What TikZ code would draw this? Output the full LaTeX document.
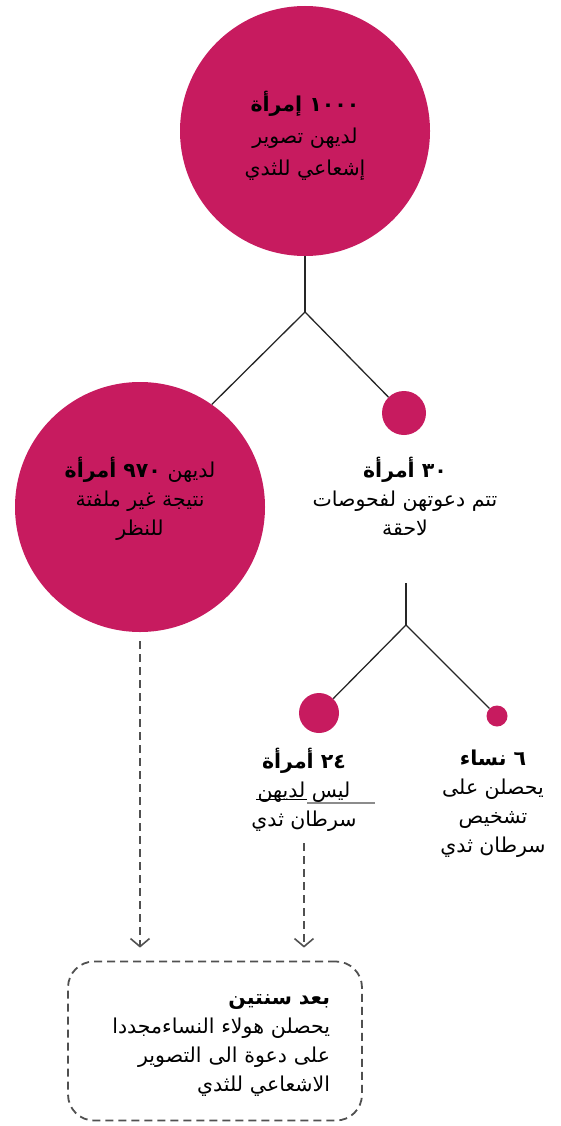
\documentclass[tikz,border=0pt]{standalone}
\usepackage{fontspec}
\TeXXeTstate=1
\newfontfamily\arabicfont[Script=Arabic]{DejaVu Sans}
\usetikzlibrary{arrows.meta}
\definecolor{rosa}{RGB}{199,27,95}
\definecolor{strich}{RGB}{80,80,80}
\tikzset{
  kreis/.style={circle, fill=rosa, inner sep=0pt},
  ast/.style={line width=1.3pt, black!85},
  arab/.style={align=center, font=\arabicfont\fontsize{20.5}{29}\selectfont},
  pfeil/.style={strich, line width=2pt, dash pattern=on 8pt off 5pt,
    -{Straight Barb[length=8pt, width=19pt, line width=1.6pt]}},
}
\begin{document}
\begin{tikzpicture}[x=1pt, y=-1pt]
  \useasboundingbox (0,0) rectangle (560,1126);
  % erster Schritt
  \node[kreis, minimum size=250pt] (tc) at (305,131) {};
  \node[arab, font=\arabicfont\fontsize{20.5}{32}\selectfont] (t1000) at ([yshift=-5pt]tc.center)
    {\beginR{\bfseries ١٠٠٠ إمرأة}\endR\\ \beginR لديهن تصوير\endR\\ \beginR إشعاعي للثدي\endR};
  \coordinate (j1) at (305,312);
  \node[kreis, minimum size=250pt] (lc) at (140,507) {};
  \node[arab] (t970) at ([yshift=8pt]lc.center)
    {\beginR لديهن  {\bfseries ٩٧٠ أمرأة}\endR\\ \beginR نتيجة غير ملفتة\endR\\ \beginR للنظر\endR};
  \node[kreis, minimum size=44pt] (sc) at (404,413) {};
  \node[arab] (t30) at (405,496)
    {\beginR{\bfseries ٣٠ أمرأة}\endR\\ \beginR تتم دعوتهن لفحوصات\endR\\ \beginR لاحقة\endR};
  \draw[ast] (tc) -- (j1);
  \draw[ast] (j1) -- (lc.55);
  \draw[ast] (j1) -- (sc);
  % zweiter Schritt
  \coordinate (j2a) at (406,583);
  \coordinate (j2) at (406,625);
  \node[kreis, minimum size=40pt] (c24) at (319,713) {};
  \node[kreis, minimum size=21pt] (c6) at (497,716) {};
  \draw[ast] (j2a) -- (j2);
  \draw[ast] (j2) -- (c24);
  \draw[ast] (j2) -- (c6);
  \node[arab] (t24) at (304,790)
    {\beginR{\bfseries ٢٤ أمرأة}\endR\\ \beginR ليس لديهن\endR\\ \beginR سرطان ثدي\endR};
  \draw[black, line width=1pt] (256,799) -- (307,799);
  \draw[black!45, line width=1.5pt] (307,803) -- (375,803);
  \node[arab] (t6) at (493,804)
    {\beginR{\bfseries ٦ نساء}\endR\\ \beginR يحصلن على\endR\\ \beginR تشخيص\endR\\ \beginR سرطان ثدي\endR};
  % nach zwei Jahren
  \node[draw=strich, line width=1.8pt, dash pattern=on 8pt off 5pt, rounded corners=26pt,
    minimum width=294pt, minimum height=159pt] (box) at (215,1041) {};
  \node[arab, align=right, text width=230pt] (tbox) at ([yshift=-4pt]box.center)
    {\beginR{\bfseries بعد سنتين}\endR\\ \beginR يحصلن هولاء النساءمجددا\endR\\
     \beginR على دعوة الى التصوير\endR\\ \beginR الاشعاعي للثدي\endR};
  \coordinate (q24) at (304,843);
  \draw[pfeil, shorten <=9pt, shorten >=13pt] (lc.south) -- (lc.south |- box.north);
  \draw[pfeil, shorten >=13pt] (q24) -- (q24 |- box.north);
\end{tikzpicture}
\end{document}
